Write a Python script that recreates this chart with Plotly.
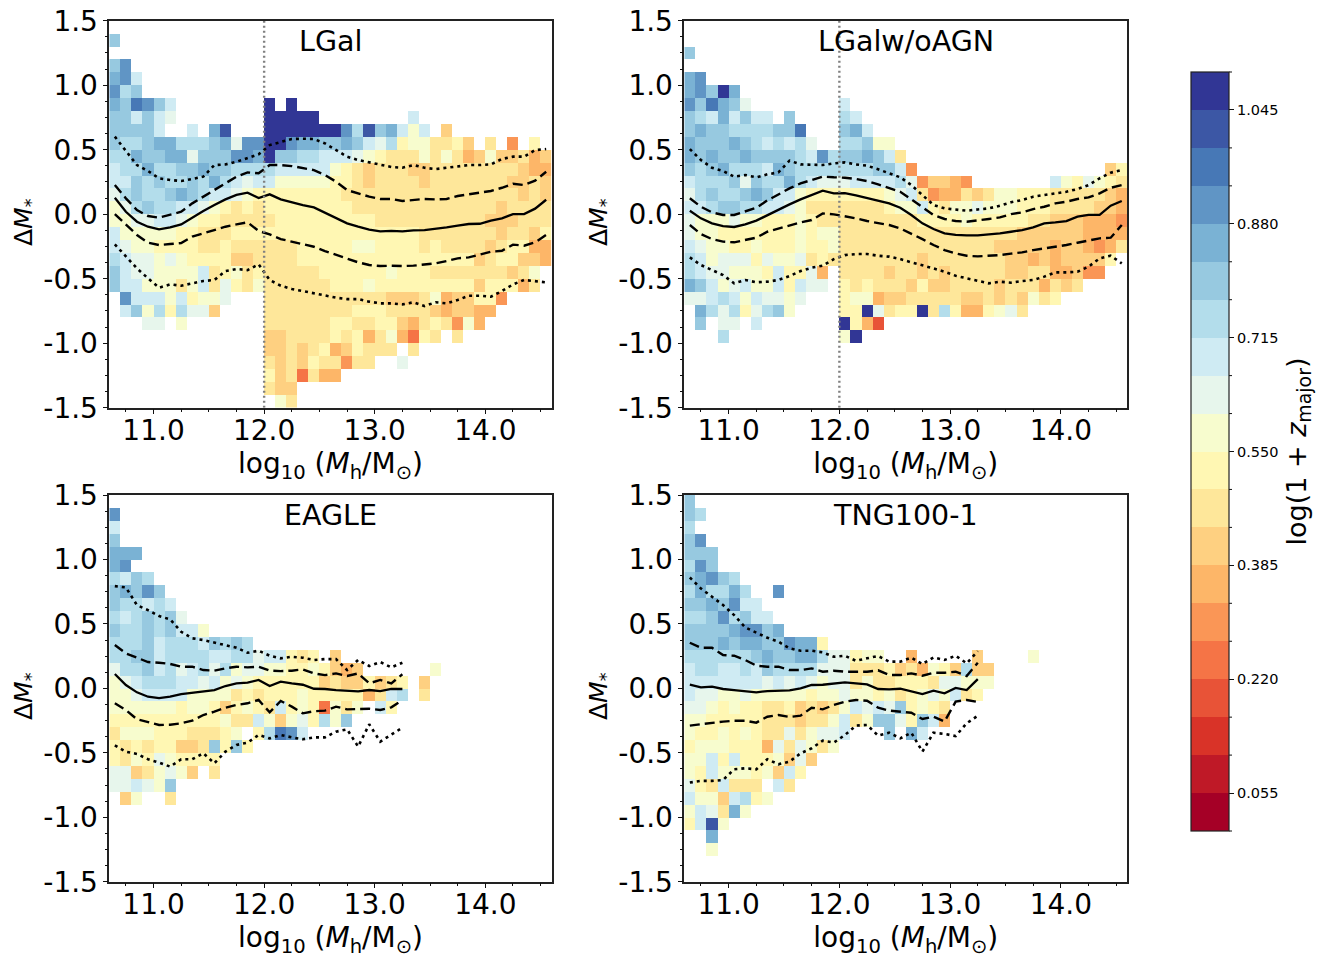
#!/usr/bin/env python3
# -*- coding: utf-8 -*-
"""
Delta M_star vs halo mass in four models, coloured by log(1 + z_major).
Cells are kept as one character per bin, one string per row (top row first):
'.' or missing = empty bin, otherwise the index of the colour level 0-j.
"""
import numpy as np
import plotly.graph_objects as go
import plotly.colors as pc
from plotly.subplots import make_subplots

# =============================================================================
# Data
# =============================================================================
mass_bins = np.arange(40) * 0.1 + 10.65
dm_bins = 1.45 - np.arange(30) * 0.1
level_codes = "0123456789abcdefghij"
level_width = 0.055
halo_cut = [12.0, 12.0]
cut_range = [-1.5, 1.5]

lgal_rows = [
    "", "e", "", "eg", "fgc", "gde",
    "fehgec........j.j",
    "eececb........jjjjj........c",
    "eeeec..c.fi...jjjjjjjgdiefcac.7",
    "eddeffdddefbggjjgffeefecbd9aa8897.8.5.9",
    "ddfeeffbeeeggfjeeddcccba9888a8a867a77867",
    "cddfddeefeedddd" "ccccca987" "88877" "88888888" "766",
    "ccededdedfdcbccaaaaa99878888788888887787",
    "bdeddefedccba" "99999999" "8888888888888888" "787",
    "abdeddccba9898" "99999999" "8888888888888" "7" "8888",
    "aabbccba99" "88888" "999999999" "8888888888" "777" "888",
    "caaaaa99888999" "99999999999999" "8888888" "78879",
    "cbaa9999889888" "888" "99999" "aa" "9999" "89" "8888" "7899" "66",
    "dcbbaba9999778" "888" "9999999999999999" "78" "99" "77" "6",
    "ecbbaaaac89a89" "88888" "999999" "a" "999" "8888888" "78a",
    "eccaaa8ac8b98a" "888888" "999" "a" "999999999" "7" "999" "68",
    ".gcccac9aab" "..." "88888888888" "777" "8a6" "77" "99" "5",
    ".cead9dbb7" "...." "88888888" "999" "8888" "76" "77" "66",
    "...bb.a" "......." "888888" "99" "88" "99" "76" "89" "85" "a6",
    ".............." "77" "8888" "9" "8" "9" "6" "8" "a" "6" "4" "9" "8" "." "8",
    ".............." "77" "8" "7" "8" "9" "6" "7" "9" "888" "." "8",
    ".............." "8" "7" "8" "7" "9" "88" "5" "88" ".." "b",
    ".............." "9784866",
    ".............." "877",
    "..............." "a8",
]
noagn_rows = [
    "", "", "e", "", "fg", "fgejf",
    "gehfeb........c",
    "edcfcecc.e....dc",
    "efeeddddeeh...efc",
    "feeefedcdcdb..ddeaa",
    "fefeefeeeedcgdeefec8",
    "edefdddcfe" "dddd" "ddd" "eec5" "................." "79",
    "cdddebeddfdcbbbccccdb57765.......ca9ba98",
    "bdeddefecc" "a9999999" "abc" "8566878" "aa" "999" "88888" "76",
    "ccdeeddccb" "a888" "8888" "9aac" "98" "aa" "baaa" "999" "8888" "776",
    "baaabaa999" "a9" "88" "8888888" "9999" "a" "99999" "88" "777" "666" "5",
    "baa9999999" "a9aa" "8888888888888888" "777777" "6666",
    "cbaa99a999" "a99a" "88888888888888" "77777" "677" "6568",
    "dcabbb9baa" "b898" "8888888" "7" "8888888" "77" "6" "7" "6" "7777" "9",
    "dcbbaaa9c9" "9b6." "8888" "7" "88" "7" "8" "7" "88888" "77" "88" "667" "55",
    "fecabcaac9" "cbb." "989888" "79" "77" "8888" "7" "888" "6" "878",
    "bbcdcacbba" "b..." "9aa" "677" "88888" "77" "8" "7" "8" "7" "a" "8" "9",
    ".fdbd9bdea" "...." "99jb8" "99j8d9" "66" "9ab8",
    ".e.bb.c" "......." "j963",
    "...d" ".........." "aj",
    "", "", "", "", "",
]
eagle_rows = [
    "", "g", "c", "e", "fff", "fg", "dced", "efege", "eddcdc", "dcdedeb",
    "eddedecca",
    "dddecdddceded",
    "ddeecddddccddbcc989.7",
    "bddecdbcdbdabb" "aa99a9767" "......" "a",
    "abcdddccbc" "aba" "999999" "78779789.7",
    "aabccccaaa" "a898" "999a" "99999" "68cd" ".8",
    "aaaaaa9aa9" "79a9" "8c9a9" "4a8a" ".c9",
    "9999999999" "a88ca7ab9dae",
    "8aaa999888" "9a.9dhgc",
    "989899778e9e9",
    "98a9ba9999",
    "bb78aba7.8",
    "bbcbae",
    ".7a..8",
    "", "", "", "", "", "",
]
tng_rows = [
    "e", "ed", "d", "eg", "eee", "dge", "efged", "dfddfd..g", "eefegcc",
    "ddegdecc",
    "eeeefggef",
    "eeefeffeegff9",
    "ddddddefeeffdbb9aa..6.....7....a",
    "cddccdceddddbbb8889786a97d77",
    "cccccccbcbcbabb8a889998bbaaa",
    "cbbaab" "aaaaa" "9aab" "aa9a" "89ab" "ac89",
    "bba9a99889" "7878acbcbe9a98",
    "aa99999888" "788ac8aeeb9ec6",
    "a99a9a988b" "8abbc" "..." "e.fc",
    "9aaa9996b8" "ba8a",
    "aac9c999a7" "b7",
    "a9caaa9a7c" "9",
    "b98c888.c8",
    "caa7cd9a",
    "acb8fa",
    "9cia",
    "..f",
    "..a",
    "", "",
]

lgal_med = [.128, .019, -.058, -.097, -.118, -.102, -.079, -.025, .025, .071, .115, .149, .167, .125, .154, .115, .092, .071, .053, .012,
            -.025, -.071, -.097, -.120, -.133, -.130, -.133, -.125, -.123, -.115, -.102, -.089, -.076, -.074, -.050, -.032, .001, .001, .043, .112]
lgal_p84 = [.226, .123, .032, -.014, -.027, -.006, .019, .084, .136, .187, .239, .291, .324, .317, .381, .381, .373, .360, .342, .304,
            .252, .187, .162, .136, .118, .118, .102, .112, .118, .115, .118, .141, .154, .162, .180, .205, .236, .226, .260, .329]
lgal_p16 = [.001, -.084, -.161, -.221, -.239, -.231, -.224, -.174, -.149, -.123, -.097, -.079, -.063, -.130, -.156, -.193, -.213, -.234, -.252, -.286,
            -.317, -.348, -.373, -.394, -.402, -.399, -.402, -.399, -.389, -.381, -.363, -.342, -.335, -.311, -.291, -.283, -.236, -.244, -.218, -.161]
lgal_p95 = [.601, .490, .381, .335, .278, .265, .257, .273, .291, .381, .386, .407, .438, .464, .536, .562, .583, .585, .583, .549,
            .497, .446, .420, .402, .381, .366, .360, .381, .360, .350, .360, .368, .381, .381, .386, .428, .446, .446, .497, .505]
lgal_p05 = [-.234, -.329, -.420, -.497, -.570, -.544, -.554, -.536, -.518, -.510, -.441, -.425, -.433, -.389, -.510, -.554, -.580, -.596, -.614, -.627,
            -.647, -.658, -.658, -.678, -.691, -.691, -.699, -.683, -.712, -.683, -.691, -.665, -.632, -.632, -.640, -.596, -.544, -.510, -.518, -.528]

noagn_med = [.027, -.032, -.071, -.092, -.099, -.079, -.050, -.006, .037, .076, .115, .149, .182, .162, .164, .146, .125, .107, .084, .050,
             -.006, -.071, -.115, -.149, -.161, -.164, -.164, -.156, -.149, -.136, -.123, -.102, -.071, -.063, -.053, -.019, -.006, -.006, .066, .102]
noagn_p84 = [.123, .058, .014, -.006, -.006, .019, .050, .107, .154, .200, .239, .265, .291, .286, .283, .273, .257, .231, .205, .174,
             .115, .058, -.006, -.037, -.053, -.058, -.050, -.037, -.025, .001, .014, .040, .058, .084, .097, .118, .130, .162, .205, .226]
noagn_p16 = [-.084, -.154, -.193, -.213, -.218, -.200, -.182, -.136, -.110, -.084, -.063, -.045, .006, -.001, -.014, -.032, -.053, -.068, -.084, -.110,
             -.149, -.193, -.239, -.278, -.304, -.322, -.327, -.322, -.317, -.306, -.296, -.278, -.265, -.255, -.239, -.221, -.205, -.187, -.182, -.084]
noagn_p95 = [.505, .420, .360, .335, .291, .304, .286, .309, .324, .415, .386, .381, .381, .394, .402, .386, .376, .348, .317, .286,
             .226, .149, .071, .045, .037, .027, .037, .045, .066, .092, .110, .136, .149, .162, .174, .195, .226, .278, .322, .342]
noagn_p05 = [-.335, -.394, -.433, -.472, -.536, -.510, -.528, -.523, -.510, -.479, -.441, -.415, -.399, -.348, -.317, -.309, -.309, -.322, -.329, -.348,
             -.373, -.394, -.420, -.446, -.477, -.497, -.518, -.536, -.523, -.531, -.518, -.510, -.484, -.451, -.451, -.446, -.407, -.342, -.322, -.381]

eagle_med = [.111, .026, -.031, -.065, -.075, -.065, -.044, -.034, -.026, -.013, .018, .039, .044, .065, .018, .052, .039, .028, -.003, -.005,
             -.013, -.016, -.023, -.013, -.021, -.005, -.005]
eagle_p84 = [.336, .271, .238, .204, .199, .189, .168, .168, .142, .137, .155, .168, .163, .168, .137, .134, .137, .147, .116, .103,
             .116, .096, .116, .039, .065, .039, .109]
eagle_p16 = [-.116, -.168, -.240, -.264, -.284, -.282, -.271, -.251, -.207, -.181, -.150, -.129, -.116, -.090, -.186, -.098, -.142, -.194, -.178, -.173,
             -.142, -.163, -.160, -.158, -.168, -.147, -.090]
eagle_p95 = [.793, .783, .646, .607, .561, .535, .439, .388, .375, .354, .336, .315, .276, .292, .253, .233, .245, .238, .220, .227,
             .227, .142, .220, .173, .204, .163, .199]
eagle_p05 = [-.442, -.491, -.509, -.550, -.576, -.607, -.550, -.550, -.504, -.581, -.491, -.439, -.421, -.362, -.388, -.362, -.380, -.395, -.380, -.380,
             -.336, -.318, -.452, -.279, -.413, -.362, -.305]

tng_med = [.028, .008, .013, -.005, -.013, -.021, -.031, -.021, -.016, -.016, 0, .026, .028, .036, .047, .039, .031, -.005, -.008, -.003,
           -.026, -.044, -.018, -.039, .003, -.013, .072]
tng_p84 = [.354, .315, .315, .258, .253, .220, .176, .168, .168, .142, .142, .155, .129, .137, .129, .129, .129, .140, .103, .103,
           .116, .098, .121, .121, .129, .096, .199]
tng_p16 = [-.289, -.279, -.264, -.258, -.251, -.251, -.266, -.220, -.207, -.222, -.212, -.150, -.163, -.129, -.103, -.090, -.096, -.150, -.173, -.181,
           -.189, -.238, -.220, -.258, -.103, -.090, -.106]
tng_p95 = [.860, .775, .711, .646, .568, .473, .432, .393, .362, .310, .292, .292, .279, .245, .253, .214, .233, .251, .207, .207,
           .238, .189, .240, .220, .253, .194, .289]
tng_p05 = [-.731, -.718, -.718, -.711, -.628, -.620, -.628, -.550, -.589, -.568, -.504, -.465, -.406, -.421, -.362, -.289, -.284, -.367, -.344, -.388,
           -.344, -.491, -.344, -.354, -.370, -.271, -.212]

panel_names = ["LGal", "LGalw/oAGN", "EAGLE", "TNG100-1"]
x_ticks = [11, 12, 13, 14]
x_labels = ["11.0", "12.0", "13.0", "14.0"]
y_ticks = [-1.5, -1.0, -0.5, 0.0, 0.5, 1.0, 1.5]
y_labels = ["-1.5", "-1.0", "-0.5", "0.0", "0.5", "1.0", "1.5"]
cbar_ticks = [0.055, 0.22, 0.385, 0.55, 0.715, 0.88, 1.045]
cbar_labels = ["0.055", "0.220", "0.385", "0.550", "0.715", "0.880", "1.045"]

# =============================================================================
# Helper functions
# =============================================================================
W, H = 1328, 966
OFF = 8  # the page body has a default 8px margin
FONT = "DejaVu Sans"
CB_LEFT, CB_RIGHT, CB_TOP, CB_BOTTOM = 1191, 1229, 72, 831


def decode(rows):
    z = []
    for row in rows:
        line = []
        for ch in row.ljust(40, "."):
            if ch == ".":
                line.append(None)
            else:
                line.append((level_codes.index(ch) + 0.5) * level_width)
        z.append(line)
    return z


def px(a):
    return (a - OFF) / W


def py(a):
    return 1 - (a - OFF) / H


# =============================================================================
# Figure
# =============================================================================
colors = pc.sample_colorscale("RdYlBu", [i / 19 for i in range(20)])
stepped = []
for i, c in enumerate(colors):
    stepped.append([i / 20, c])
    stepped.append([(i + 1) / 20, c])

fig = make_subplots(rows=2, cols=2)

panels = [
    (1, 1, lgal_rows, lgal_med, lgal_p84, lgal_p16, lgal_p95, lgal_p05),
    (1, 2, noagn_rows, noagn_med, noagn_p84, noagn_p16, noagn_p95, noagn_p05),
    (2, 1, eagle_rows, eagle_med, eagle_p84, eagle_p16, eagle_p95, eagle_p05),
    (2, 2, tng_rows, tng_med, tng_p84, tng_p16, tng_p95, tng_p05),
]
boxes_x = {1: [px(109.3), px(551.7)], 2: [px(684.3), px(1127.3)]}
boxes_y = {1: [py(407.7), py(20.7)], 2: [py(881.7), py(495)]}

for row, col, rows, med, p84, p16, p95, p05 in panels:
    fig.add_trace(go.Heatmap(x=mass_bins, y=dm_bins, z=decode(rows), coloraxis="coloraxis",
                             hoverongaps=False), row=row, col=col)
    for vals, dash, lw in [(p95, "3px,4px", 2.6), (p05, "3px,4px", 2.6),
                           (p84, "10px,5px", 2.4), (p16, "10px,5px", 2.4),
                           (med, "solid", 2.3)]:
        fig.add_trace(go.Scatter(x=mass_bins[:len(vals)], y=vals, mode="lines",
                                 line=dict(color="black", width=lw, dash=dash)),
                      row=row, col=col)
    if row == 1:
        fig.add_trace(go.Scatter(x=halo_cut, y=cut_range, mode="lines",
                                 line=dict(color="#808080", width=2.4, dash="2px,3px")),
                      row=row, col=col)
    fig.update_xaxes(domain=boxes_x[col], range=[10.6, 14.6], tickvals=x_ticks, ticktext=x_labels,
                     ticks="outside", ticklen=5, tickwidth=1.2, tickcolor="#111",
                     minor=dict(dtick=0.25, ticks="outside", ticklen=3, tickwidth=1, tickcolor="#111"),
                     showline=True, mirror=True, linecolor="#222", linewidth=1.5,
                     showgrid=False, zeroline=False, tickfont=dict(family=FONT, size=28, color="black"),
                     ticklabelstandoff=-8,
                     title=dict(text="log<sub>10</sub> (<i>M</i><sub>h</sub>/M<sub>⊙</sub>)", standoff=2,
                                font=dict(family=FONT, size=28, color="black")),
                     row=row, col=col)
    fig.update_yaxes(domain=boxes_y[row], range=[-1.5, 1.5], tickvals=y_ticks, ticktext=y_labels,
                     ticks="outside", ticklen=5, tickwidth=1.2, tickcolor="#111",
                     minor=dict(dtick=0.125, ticks="outside", ticklen=3, tickwidth=1, tickcolor="#111"),
                     showline=True, mirror=True, linecolor="#222", linewidth=1.5,
                     showgrid=False, zeroline=False, tickfont=dict(family=FONT, size=28, color="black"),
                     ticklabelstandoff=-1, ticklabeloverflow="allow",
                     row=row, col=col)

title_pos = [(330, 41), (906, 41), (330, 515), (905, 515)]
for name, (tx, ty) in zip(panel_names, title_pos):
    fig.add_annotation(text=name, x=px(tx), y=py(ty), xref="paper", yref="paper",
                       xanchor="center", yanchor="middle", showarrow=False,
                       font=dict(family=FONT, size=28.5, color="black"))

# the y titles sit a little below the axis middle in the reference
for tx, ty in [(25, 222), (600, 222), (25, 696), (600, 696)]:
    fig.add_annotation(text="Δ<i>M</i><sub>*</sub>", x=px(tx), y=py(ty), xref="paper", yref="paper",
                       xanchor="center", yanchor="middle", textangle=-90, showarrow=False,
                       font=dict(family=FONT, size=25, color="black"))

# short unlabelled ticks on the colour bar, at every level edge
for i in range(21):
    if (i - 1) % 3 == 0 and 0 < i < 20:
        continue
    tick_y = CB_BOTTOM - (CB_BOTTOM - CB_TOP) * i / 20
    fig.add_shape(type="line", xref="paper", yref="paper",
                  x0=px(CB_RIGHT), x1=px(CB_RIGHT + 3), y0=py(tick_y), y1=py(tick_y),
                  line=dict(color="#111", width=1))

fig.update_layout(
    width=W, height=H, autosize=False,
    margin=dict(l=0, r=0, t=0, b=0, autoexpand=False),
    paper_bgcolor="white", plot_bgcolor="white",
    showlegend=False, hovermode=False,
    coloraxis=dict(
        colorscale=stepped, cmin=0, cmax=1.1,
        colorbar=dict(
            x=px(CB_LEFT), xanchor="left", y=py(CB_TOP), yanchor="top",
            thickness=CB_RIGHT - CB_LEFT, thicknessmode="pixels",
            len=CB_BOTTOM - CB_TOP, lenmode="pixels",
            xpad=0, ypad=0, outlinecolor="#222", outlinewidth=1.2,
            tickmode="array", tickvals=cbar_ticks, ticktext=cbar_labels,
            ticks="outside", ticklen=5, tickwidth=1, tickcolor="#111",
            tickfont=dict(family=FONT, size=14.5, color="black"),
            title=dict(text="log(1 + <i>z</i><sub>major</sub>)", side="right",
                       font=dict(family=FONT, size=27, color="black")),
        ),
    ),
)

fig.write_html("out.html")
